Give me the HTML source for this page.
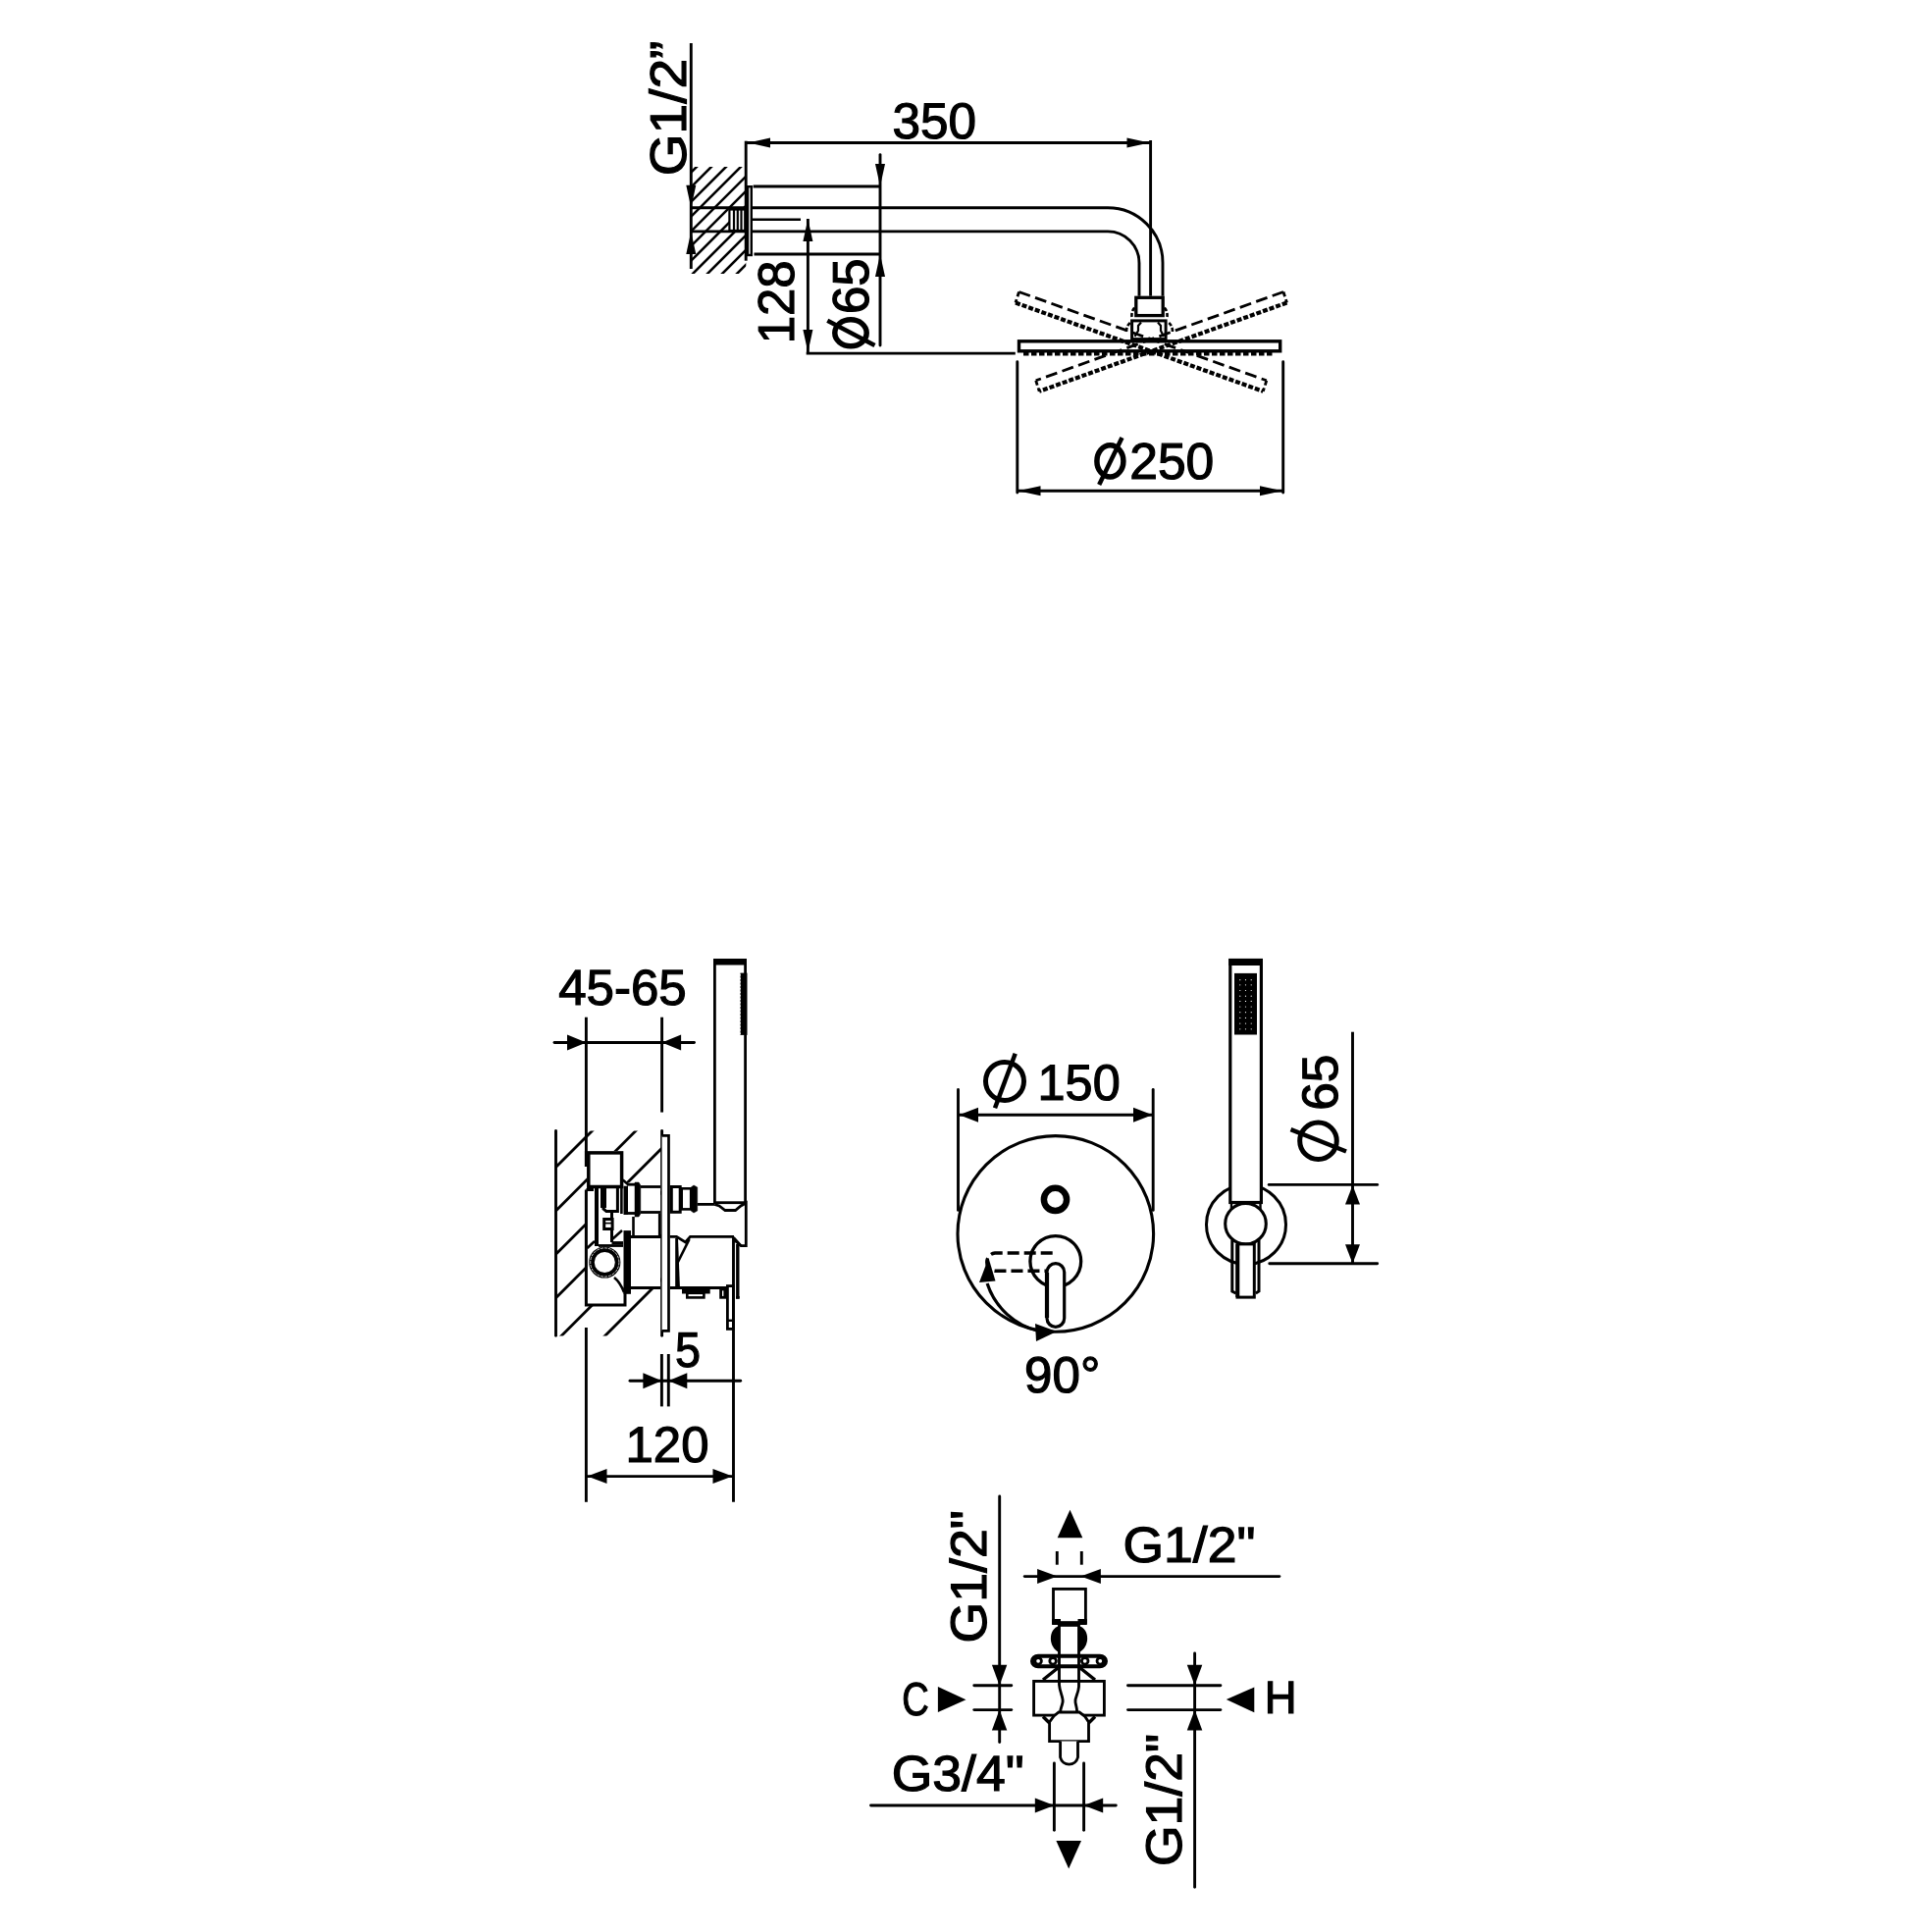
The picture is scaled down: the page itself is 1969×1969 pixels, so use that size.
<!DOCTYPE html>
<html><head><meta charset="utf-8"><style>
html,body{margin:0;padding:0;background:#fff;overflow:hidden;width:1969px;height:1969px;}
svg{display:block;will-change:transform;}
text{font-family:"Liberation Sans",sans-serif;fill:#000;stroke:#000;stroke-width:1.2px;font-kerning:none;text-rendering:geometricPrecision;}
</style></head><body>
<svg width="1969" height="1969" viewBox="0 0 1969 1969" stroke="#000" fill="none">
<clipPath id="cw1"><rect x="704.3" y="170" width="56" height="109"/></clipPath>
<g clip-path="url(#cw1)"><line x1="580" y1="300" x2="780" y2="100" stroke-width="2.6"/><line x1="595" y1="300" x2="795" y2="100" stroke-width="2.6"/><line x1="610" y1="300" x2="810" y2="100" stroke-width="2.6"/><line x1="625" y1="300" x2="825" y2="100" stroke-width="2.6"/><line x1="640" y1="300" x2="840" y2="100" stroke-width="2.6"/><line x1="655" y1="300" x2="855" y2="100" stroke-width="2.6"/><line x1="670" y1="300" x2="870" y2="100" stroke-width="2.6"/><line x1="685" y1="300" x2="885" y2="100" stroke-width="2.6"/><line x1="700" y1="300" x2="900" y2="100" stroke-width="2.6"/><line x1="715" y1="300" x2="915" y2="100" stroke-width="2.6"/><line x1="730" y1="300" x2="930" y2="100" stroke-width="2.6"/><line x1="745" y1="300" x2="945" y2="100" stroke-width="2.6"/></g>
<rect x="743.4" y="213.5" width="15.9" height="21.5" stroke-width="2.2" fill="#fff" />
<line x1="748.0" y1="213.5" x2="748.0" y2="235.0" stroke-width="2.2" stroke-linecap="butt" />
<line x1="751.8" y1="213.5" x2="751.8" y2="235.0" stroke-width="2.2" stroke-linecap="butt" />
<line x1="755.5" y1="213.5" x2="755.5" y2="235.0" stroke-width="2.2" stroke-linecap="butt" />
<line x1="704.3" y1="44.0" x2="704.3" y2="274.0" stroke-width="2.9" stroke-linecap="butt" />
<polygon points="704.3,211.7 699.3,188.7 709.3,188.7" fill="#000" stroke="none"/>
<polygon points="704.3,236.0 709.3,259.0 699.3,259.0" fill="#000" stroke="none"/>
<line x1="760.2" y1="143.7" x2="760.2" y2="265.7" stroke-width="2.9" stroke-linecap="butt" />
<line x1="760.2" y1="145.5" x2="1172.6" y2="145.5" stroke-width="2.9" stroke-linecap="butt" />
<polygon points="762.0,145.5 785.0,140.5 785.0,150.5" fill="#000" stroke="none"/>
<polygon points="1171.5,145.5 1148.5,150.5 1148.5,140.5" fill="#000" stroke="none"/>
<line x1="1172.6" y1="143.0" x2="1172.6" y2="301.7" stroke-width="2.9" stroke-linecap="butt" />
<path d="M704.3,211.7 L1129,211.7 A56,56 0 0 1 1185,267.7 L1185,301.7" stroke-width="2.9" fill="none" />
<path d="M704.3,235.9 L1129,235.9 A32,32 0 0 1 1161,267.9 L1161,301.7" stroke-width="2.9" fill="none" />
<rect x="762.0" y="190.2" width="3.8" height="69.8" stroke-width="2.4" fill="#fff" />
<line x1="767.6" y1="190.0" x2="897.0" y2="190.0" stroke-width="2.9" stroke-linecap="butt" />
<line x1="768.5" y1="259.0" x2="897.0" y2="259.0" stroke-width="2.9" stroke-linecap="butt" />
<line x1="897.0" y1="157.6" x2="897.0" y2="352.0" stroke-width="2.9" stroke-linecap="round" />
<polygon points="897.0,190.0 892.0,167.0 902.0,167.0" fill="#000" stroke="none"/>
<polygon points="897.0,259.0 902.0,282.0 892.0,282.0" fill="#000" stroke="none"/>
<line x1="766.7" y1="223.8" x2="816.0" y2="223.8" stroke-width="2.4" stroke-linecap="butt" />
<line x1="823.4" y1="223.0" x2="823.4" y2="359.0" stroke-width="2.9" stroke-linecap="butt" />
<polygon points="823.4,223.0 828.4,246.0 818.4,246.0" fill="#000" stroke="none"/>
<polygon points="823.4,359.0 818.4,336.0 828.4,336.0" fill="#000" stroke="none"/>
<line x1="821.7" y1="360.1" x2="1034.8" y2="360.1" stroke-width="2.9" stroke-linecap="butt" />
<rect x="1157.8" y="303.3" width="27.4" height="18.3" stroke-width="3.3" fill="#fff" />
<rect x="1153.6" y="326.9" width="34.5" height="18.7" stroke-width="3" fill="#fff" />
<path d="M1156.5,343 L1160,337 L1160,332 L1163,328.5 M1186,343 L1183,337 L1183,332 L1180,328.5" stroke-width="2.2" fill="none" />
<rect x="1038.5" y="347.8" width="266.2" height="10.0" stroke-width="3.4" fill="#fff" />
<line x1="1043.0" y1="360.6" x2="1298.0" y2="360.6" stroke-width="3.6" stroke-linecap="butt" stroke-dasharray="5.5 2.5"/>
<path d="M1153.5,323 C1153,318 1155,314 1158,312 M1189.5,323 C1190,318 1188,314 1185,312" stroke-width="2.6" fill="none" stroke-dasharray="4 2"/>
<path d="M1148,338 C1148,333 1150,330 1153,328 M1195,338 C1195,333 1193,330 1190,328" stroke-width="2.6" fill="none" stroke-dasharray="4 2"/>
<line x1="1038.5" y1="297.5" x2="1290.8" y2="387.8" stroke-width="2.8" stroke-linecap="butt" stroke-dasharray="12 5.5"/>
<line x1="1035.0" y1="308.5" x2="1287.3" y2="398.8" stroke-width="4.2" stroke-linecap="butt" stroke-dasharray="5 2"/>
<line x1="1038.5" y1="297.5" x2="1035.0" y2="308.5" stroke-width="2.8" stroke-linecap="butt" stroke-dasharray="5 3"/>
<line x1="1290.8" y1="387.8" x2="1287.3" y2="398.8" stroke-width="2.8" stroke-linecap="butt" stroke-dasharray="5 3"/>
<line x1="1308.0" y1="297.5" x2="1055.7" y2="387.8" stroke-width="2.8" stroke-linecap="butt" stroke-dasharray="12 5.5"/>
<line x1="1311.5" y1="308.5" x2="1059.2" y2="398.8" stroke-width="4.2" stroke-linecap="butt" stroke-dasharray="5 2"/>
<line x1="1308.0" y1="297.5" x2="1311.5" y2="308.5" stroke-width="2.8" stroke-linecap="butt" stroke-dasharray="5 3"/>
<line x1="1055.7" y1="387.8" x2="1059.2" y2="398.8" stroke-width="2.8" stroke-linecap="butt" stroke-dasharray="5 3"/>
<line x1="1036.8" y1="368.8" x2="1036.8" y2="502.0" stroke-width="2.9" stroke-linecap="round" />
<line x1="1307.7" y1="368.8" x2="1307.7" y2="502.0" stroke-width="2.9" stroke-linecap="round" />
<line x1="1036.8" y1="500.2" x2="1307.7" y2="500.2" stroke-width="2.9" stroke-linecap="butt" />
<polygon points="1037.5,500.2 1060.5,495.2 1060.5,505.2" fill="#000" stroke="none"/>
<polygon points="1307.0,500.2 1284.0,505.2 1284.0,495.2" fill="#000" stroke="none"/>
<text x="0" y="0" font-size="51.55" transform="translate(909.55 140.70) scale(0.9947 1)">350</text>
<text x="0" y="0" font-size="51.98" transform="translate(698.89 179.17) rotate(-90) scale(1.0584 1)">G1/2”</text>
<text x="0" y="0" font-size="51.98" transform="translate(808.89 350.28) rotate(-90) scale(0.9788 1)">128</text>
<text x="0" y="0" font-size="51.98" transform="translate(884.89 319.99) rotate(-90) scale(0.9813 1)">65</text>
<ellipse cx="867.0" cy="339.3" rx="16.2" ry="13.5" stroke-width="5.5" fill="none"/>
<line x1="843.3" y1="326.7" x2="891.5" y2="352.1" stroke-width="4.5" stroke-linecap="butt" />
<text x="0" y="0" font-size="52.12" transform="translate(1151.20 487.89) scale(0.9903 1)">250</text>
<ellipse cx="1131.4" cy="469.9" rx="13.5" ry="16.2" stroke-width="5.5" fill="none"/>
<line x1="1143.5" y1="445.9" x2="1120.2" y2="494.0" stroke-width="4.5" stroke-linecap="butt" />
<text x="0" y="0" font-size="50.99" transform="translate(569.13 1024.00) scale(1.0016 1)">45-65</text>
<line x1="565.0" y1="1062.5" x2="707.5" y2="1062.5" stroke-width="2.9" stroke-linecap="round" />
<polygon points="597.5,1062.5 578.0,1070.5 578.0,1054.5" fill="#000" stroke="none"/>
<polygon points="674.6,1062.5 694.1,1054.5 694.1,1070.5" fill="#000" stroke="none"/>
<line x1="597.4" y1="1036.7" x2="597.4" y2="1189.0" stroke-width="2.9" stroke-linecap="butt" />
<line x1="674.6" y1="1036.7" x2="674.6" y2="1133.6" stroke-width="2.9" stroke-linecap="butt" />
<clipPath id="cw2"><rect x="566.5" y="1152.4" width="108" height="209"/></clipPath>
<g clip-path="url(#cw2)"><line x1="356.0" y1="1400" x2="656.0" y2="1100" stroke-width="2.8"/><line x1="400.4" y1="1400" x2="700.4" y2="1100" stroke-width="2.8"/><line x1="444.8" y1="1400" x2="744.8" y2="1100" stroke-width="2.8"/><line x1="489.2" y1="1400" x2="789.2" y2="1100" stroke-width="2.8"/><line x1="533.6" y1="1400" x2="833.6" y2="1100" stroke-width="2.8"/><line x1="578.0" y1="1400" x2="878.0" y2="1100" stroke-width="2.8"/></g>
<line x1="566.5" y1="1152.4" x2="566.5" y2="1361.3" stroke-width="2.9" stroke-linecap="round" />
<line x1="674.6" y1="1152.4" x2="674.6" y2="1361.3" stroke-width="2.9" stroke-linecap="round" />
<path d="M674.6,1157.4 L681.5,1157.4 L681.5,1356.3 L674.6,1356.3" stroke-width="2.7" fill="#fff" />
<rect x="728.4" y="978.5" width="31.2" height="247.2" stroke-width="2.8" fill="#fff" />
<line x1="727.0" y1="980.3" x2="761.0" y2="980.3" stroke-width="6.5" stroke-linecap="butt" />
<rect x="754.5" y="991.6" width="7.0" height="63.3" stroke-width="0" fill="#000" />
<line x1="754.0" y1="993.0" x2="754.0" y2="1054.0" stroke-width="1.5" stroke-linecap="butt" stroke-dasharray="1.5 2" stroke="#fff"/>
<path d="M728.3,1227.5 L733,1229 L739,1233.5 L749.5,1233.5 L755,1229 L760.3,1226 L760.3,1269.7 L755.2,1269.7 L748,1263.5" stroke-width="2.8" fill="#fff" />
<rect x="597.4" y="1211.0" width="39.6" height="119.0" stroke-width="0" fill="#fff" />
<rect x="631.0" y="1205.5" width="42.0" height="54.5" stroke-width="0" fill="#fff" />
<rect x="637.0" y="1254.0" width="36.0" height="60.0" stroke-width="0" fill="#fff" />
<rect x="598.0" y="1173.0" width="37.0" height="39.0" stroke-width="0" fill="#fff" />
<rect x="599.8" y="1174.9" width="33.8" height="34.6" stroke-width="3.5" fill="#fff" />
<line x1="597.4" y1="1173.0" x2="597.4" y2="1189.0" stroke-width="3.0" stroke-linecap="butt" />
<path d="M597.4,1212.5 L597.4,1330 L637,1330 L637,1312" stroke-width="3" fill="#fff" />
<path d="M597.4,1212.5 L605,1212.5" stroke-width="3" fill="none" />
<rect x="606.0" y="1211.0" width="4.0" height="59.0" stroke-width="0" fill="#000" />
<path d="M615,1211 L615,1232 L618,1234.6 L629.4,1234.6 L629.4,1211" stroke-width="3" fill="none" />
<rect x="612.0" y="1211.0" width="6.0" height="20.0" stroke-width="0" fill="#000" />
<line x1="623.5" y1="1236.0" x2="623.5" y2="1266.0" stroke-width="3" stroke-linecap="butt" />
<rect x="615.7" y="1242.5" width="8.4" height="10.0" stroke-width="3" fill="#fff" />
<line x1="617.0" y1="1246.6" x2="624.0" y2="1246.6" stroke-width="1.6" stroke-linecap="butt" />
<line x1="623.5" y1="1266.6" x2="635.0" y2="1266.6" stroke-width="3" stroke-linecap="butt" />
<line x1="624.0" y1="1263.0" x2="634.0" y2="1254.0" stroke-width="2.5" stroke-linecap="butt" />
<line x1="610.0" y1="1269.5" x2="635.0" y2="1269.5" stroke-width="2.8" stroke-linecap="butt" />
<line x1="633.4" y1="1208.7" x2="633.4" y2="1237.0" stroke-width="2.6" stroke-linecap="butt" />
<rect x="635.5" y="1208.7" width="4.5" height="29.3" stroke-width="0" fill="#000" />
<line x1="639.0" y1="1207.2" x2="647.5" y2="1207.2" stroke-width="2.8" stroke-linecap="butt" />
<line x1="639.0" y1="1236.5" x2="647.5" y2="1236.5" stroke-width="2.8" stroke-linecap="butt" />
<path d="M647,1205 L651,1205 L652.8,1208 L652.8,1237 L651,1240 L647,1240 Z" stroke-width="0.5" fill="#000" />
<line x1="652.8" y1="1209.5" x2="673.0" y2="1209.5" stroke-width="2.8" stroke-linecap="butt" />
<line x1="652.8" y1="1235.5" x2="673.0" y2="1235.5" stroke-width="2.8" stroke-linecap="butt" />
<line x1="672.0" y1="1237.0" x2="672.0" y2="1260.0" stroke-width="2.2" stroke-linecap="butt" />
<line x1="645.5" y1="1240.0" x2="645.5" y2="1259.0" stroke-width="2.6" stroke-linecap="butt" />
<line x1="634.7" y1="1202.5" x2="640.5" y2="1207.5" stroke-width="2.6" stroke-linecap="butt" />
<circle cx="616.3" cy="1286.5" r="13.3" stroke-width="5.6" fill="#fff" />
<circle cx="616.3" cy="1286.5" r="14.6" stroke-width="0.8" fill="none" stroke="#fff" stroke-dasharray="3 1"/>
<path d="M598.5,1272 L606,1265" stroke-width="2.6" fill="none" />
<path d="M626,1302 C631,1306 634,1312 636,1317" stroke-width="2.6" fill="none" />
<rect x="635.5" y="1254.1" width="7.5" height="64.7" stroke-width="0" fill="#000" />
<path d="M643,1260.5 L673,1260.5 M643,1312.5 L673,1312.5" stroke-width="2.8" fill="none" />
<rect x="684.3" y="1209.5" width="8.9" height="25.8" stroke-width="3" fill="#fff" />
<rect x="694.7" y="1211.3" width="9.5" height="21.1" stroke-width="2.6" fill="#fff" />
<path d="M704.2,1210 L707,1208 L710.7,1210 L710.7,1234 L707,1236 L704.2,1234 Z" stroke-width="0.5" fill="#000" />
<line x1="710.7" y1="1227.4" x2="728.3" y2="1227.4" stroke-width="2.8" stroke-linecap="butt" />
<path d="M682.8,1260.4 L689.5,1260.4 L698.5,1266 L703.5,1260.4 L748,1260.4" stroke-width="2.8" fill="none" />
<polygon points="688.2,1262.0 691.0,1262.0 692.9,1311.0 688.2,1311.0" fill="#000" stroke="none"/>
<line x1="702.5" y1="1263.0" x2="690.5" y2="1287.0" stroke-width="2.6" stroke-linecap="butt" />
<line x1="747.5" y1="1260.4" x2="747.5" y2="1530.8" stroke-width="2.9" stroke-linecap="butt" />
<line x1="682.8" y1="1312.5" x2="740.2" y2="1312.5" stroke-width="2.8" stroke-linecap="butt" />
<path d="M748,1261.7 L755.2,1269.7" stroke-width="2.6" fill="none" />
<line x1="751.8" y1="1268.0" x2="751.8" y2="1323.7" stroke-width="3.4" stroke-linecap="butt" />
<line x1="750.0" y1="1322.3" x2="753.7" y2="1322.3" stroke-width="2.6" stroke-linecap="butt" />
<rect x="696.2" y="1315.2" width="26.3" height="2.1" stroke-width="2.4" fill="#fff" />
<rect x="700.3" y="1317.8" width="17.1" height="4.6" stroke-width="2.6" fill="#fff" />
<rect x="734.6" y="1314.0" width="4.2" height="8.3" stroke-width="2.8" fill="#fff" />
<rect x="741.4" y="1310.6" width="6.0" height="43.8" stroke-width="2.8" fill="#fff" />
<line x1="741.0" y1="1345.8" x2="748.0" y2="1345.8" stroke-width="2.4" stroke-linecap="butt" />
<line x1="597.4" y1="1353.0" x2="597.4" y2="1530.8" stroke-width="2.9" stroke-linecap="butt" />
<line x1="674.4" y1="1380.0" x2="674.4" y2="1433.4" stroke-width="2.9" stroke-linecap="butt" />
<line x1="681.3" y1="1380.0" x2="681.3" y2="1433.4" stroke-width="2.9" stroke-linecap="butt" />
<line x1="642.0" y1="1407.3" x2="754.7" y2="1407.3" stroke-width="2.9" stroke-linecap="round" />
<polygon points="674.4,1407.3 655.4,1415.3 655.4,1399.3" fill="#000" stroke="none"/>
<polygon points="681.3,1407.3 700.3,1399.3 700.3,1415.3" fill="#000" stroke="none"/>
<text x="0" y="0" font-size="50.45" transform="translate(687.93 1392.51) scale(0.9282 1)">5</text>
<line x1="597.4" y1="1504.6" x2="747.5" y2="1504.6" stroke-width="2.9" stroke-linecap="butt" />
<polygon points="598.5,1504.6 618.5,1497.1 618.5,1512.1" fill="#000" stroke="none"/>
<polygon points="746.5,1504.6 726.5,1512.1 726.5,1497.1" fill="#000" stroke="none"/>
<text x="0" y="0" font-size="51.41" transform="translate(637.57 1489.90) scale(0.9899 1)">120</text>
<line x1="976.5" y1="1110.5" x2="976.5" y2="1233.4" stroke-width="2.9" stroke-linecap="round" />
<line x1="1175.2" y1="1110.5" x2="1175.2" y2="1233.4" stroke-width="2.9" stroke-linecap="round" />
<line x1="976.5" y1="1136.2" x2="1175.2" y2="1136.2" stroke-width="2.9" stroke-linecap="butt" />
<polygon points="977.5,1136.2 997.0,1128.7 997.0,1143.7" fill="#000" stroke="none"/>
<polygon points="1174.5,1136.2 1155.0,1143.7 1155.0,1128.7" fill="#000" stroke="none"/>
<text x="0" y="0" font-size="51.55" transform="translate(1057.56 1120.60) scale(0.9779 1)">150</text>
<ellipse cx="1024.0" cy="1101.9" rx="19.5" ry="19.5" stroke-width="5" fill="none"/>
<line x1="1014.0" y1="1129.2" x2="1034.7" y2="1073.7" stroke-width="4.5" stroke-linecap="butt" />
<circle cx="1075.8" cy="1257.4" r="99.8" stroke-width="3.1" fill="none" />
<circle cx="1075.5" cy="1222.4" r="11.6" stroke-width="6.5" fill="none" />
<circle cx="1075.8" cy="1285.5" r="25.9" stroke-width="3.3" fill="none" />
<path d="M1072.7,1277 L1014,1277 A9.2,9.2 0 0 0 1014,1295.3 L1072.7,1295.3" stroke-width="3.4" fill="none" stroke-dasharray="12 5"/>
<path d="M1067,1296.5 A8.85,8.85 0 0 1 1084.7,1296.5 L1084.7,1343.5 A8.85,8.85 0 0 1 1067,1343.5 Z" stroke-width="3.2" fill="#fff" />
<line x1="1067.0" y1="1297.0" x2="1067.0" y2="1343.0" stroke-width="4.2" stroke-linecap="butt" />
<path d="M1006.1,1308.1 A73,73 0 0 0 1059.1,1356.6" stroke-width="3.2" fill="none" />
<polygon points="1007.5,1282.0 998.0,1307.0 1014.5,1305.5" fill="#000" stroke="none"/>
<polygon points="1077.0,1357.0 1055.0,1349.0 1056.0,1367.0" fill="#000" stroke="none"/>
<text x="0" y="0" font-size="51.69" transform="translate(1044.11 1418.50) scale(0.9884 1)">90°</text>
<circle cx="1270.0" cy="1248.0" r="40.5" stroke-width="3" fill="none" />
<rect x="1253.8" y="978.5" width="31.6" height="247.0" stroke-width="3.2" fill="#fff" />
<line x1="1252.2" y1="980.6" x2="1287.0" y2="980.6" stroke-width="7" stroke-linecap="butt" />
<rect x="1258.0" y="991.9" width="23.0" height="62.6" stroke-width="0" fill="#000" />
<circle cx="1263.8" cy="998.7" r="0.6" stroke-width="0" fill="#fff" />
<circle cx="1269.5" cy="998.7" r="0.6" stroke-width="0" fill="#fff" />
<circle cx="1275.2" cy="998.7" r="0.6" stroke-width="0" fill="#fff" />
<circle cx="1263.8" cy="1003.8" r="0.6" stroke-width="0" fill="#fff" />
<circle cx="1269.5" cy="1003.8" r="0.6" stroke-width="0" fill="#fff" />
<circle cx="1275.2" cy="1003.8" r="0.6" stroke-width="0" fill="#fff" />
<circle cx="1263.8" cy="1009.5" r="0.6" stroke-width="0" fill="#fff" />
<circle cx="1269.5" cy="1009.5" r="0.6" stroke-width="0" fill="#fff" />
<circle cx="1275.2" cy="1009.5" r="0.6" stroke-width="0" fill="#fff" />
<circle cx="1263.8" cy="1015.2" r="0.6" stroke-width="0" fill="#fff" />
<circle cx="1269.5" cy="1015.2" r="0.6" stroke-width="0" fill="#fff" />
<circle cx="1275.2" cy="1015.2" r="0.6" stroke-width="0" fill="#fff" />
<circle cx="1263.8" cy="1020.4" r="0.6" stroke-width="0" fill="#fff" />
<circle cx="1269.5" cy="1020.4" r="0.6" stroke-width="0" fill="#fff" />
<circle cx="1275.2" cy="1020.4" r="0.6" stroke-width="0" fill="#fff" />
<circle cx="1263.8" cy="1026.0" r="0.6" stroke-width="0" fill="#fff" />
<circle cx="1269.5" cy="1026.0" r="0.6" stroke-width="0" fill="#fff" />
<circle cx="1275.2" cy="1026.0" r="0.6" stroke-width="0" fill="#fff" />
<circle cx="1263.8" cy="1031.7" r="0.6" stroke-width="0" fill="#fff" />
<circle cx="1269.5" cy="1031.7" r="0.6" stroke-width="0" fill="#fff" />
<circle cx="1275.2" cy="1031.7" r="0.6" stroke-width="0" fill="#fff" />
<circle cx="1263.8" cy="1037.4" r="0.6" stroke-width="0" fill="#fff" />
<circle cx="1269.5" cy="1037.4" r="0.6" stroke-width="0" fill="#fff" />
<circle cx="1275.2" cy="1037.4" r="0.6" stroke-width="0" fill="#fff" />
<circle cx="1263.8" cy="1043.1" r="0.6" stroke-width="0" fill="#fff" />
<circle cx="1269.5" cy="1043.1" r="0.6" stroke-width="0" fill="#fff" />
<circle cx="1275.2" cy="1043.1" r="0.6" stroke-width="0" fill="#fff" />
<circle cx="1263.8" cy="1048.8" r="0.6" stroke-width="0" fill="#fff" />
<circle cx="1269.5" cy="1048.8" r="0.6" stroke-width="0" fill="#fff" />
<circle cx="1275.2" cy="1048.8" r="0.6" stroke-width="0" fill="#fff" />
<path d="M1255,1226.5 L1255,1233 M1284.5,1226.5 L1284.5,1233" stroke-width="2.4" fill="none" />
<circle cx="1269.5" cy="1247.2" r="20.8" stroke-width="3.1" fill="#fff" />
<path d="M1255.8,1263.8 L1255.8,1316 L1259.5,1318 M1283,1263.8 L1283,1316 L1279.8,1318" stroke-width="3" fill="none" />
<rect x="1261.0" y="1267.9" width="17.3" height="54.2" stroke-width="3" fill="#fff" />
<line x1="1261.3" y1="1268.0" x2="1261.3" y2="1322.0" stroke-width="4" stroke-linecap="butt" />
<line x1="1293.2" y1="1207.4" x2="1403.7" y2="1207.4" stroke-width="2.9" stroke-linecap="round" />
<line x1="1293.8" y1="1287.8" x2="1403.7" y2="1287.8" stroke-width="2.9" stroke-linecap="round" />
<line x1="1378.5" y1="1051.7" x2="1378.5" y2="1287.8" stroke-width="2.9" stroke-linecap="butt" />
<polygon points="1378.5,1208.0 1386.0,1227.5 1371.0,1227.5" fill="#000" stroke="none"/>
<polygon points="1378.5,1287.8 1371.0,1268.3 1386.0,1268.3" fill="#000" stroke="none"/>
<text x="0" y="0" font-size="51.27" transform="translate(1363.40 1131.70) rotate(-90) scale(1.0005 1)">65</text>
<ellipse cx="1343.5" cy="1162.7" rx="18.8" ry="18.8" stroke-width="5" fill="none"/>
<line x1="1315.5" y1="1151.2" x2="1372.0" y2="1173.5" stroke-width="4.5" stroke-linecap="butt" />
<line x1="1018.7" y1="1525.0" x2="1018.7" y2="1775.5" stroke-width="2.9" stroke-linecap="round" />
<polygon points="1018.6,1717.7 1010.9,1696.7 1026.3,1696.7" fill="#000" stroke="none"/>
<polygon points="1018.6,1742.6 1026.3,1763.6 1010.9,1763.6" fill="#000" stroke="none"/>
<line x1="992.8" y1="1717.8" x2="1030.8" y2="1717.8" stroke-width="2.9" stroke-linecap="round" />
<line x1="992.8" y1="1742.6" x2="1030.8" y2="1742.6" stroke-width="2.9" stroke-linecap="round" />
<polygon points="984.5,1732.3 955.9,1719.0 955.9,1745.1" fill="#000" stroke="none"/>
<text x="0" y="0" font-size="47.46" transform="translate(919.37 1747.84) scale(0.8019 1)">C</text>
<polygon points="1090.5,1538.7 1077.7,1567.2 1103.3,1567.2" fill="#000" stroke="none"/>
<line x1="1077.3" y1="1581.0" x2="1077.3" y2="1594.7" stroke-width="2.9" stroke-linecap="butt" />
<line x1="1102.3" y1="1581.0" x2="1102.3" y2="1594.7" stroke-width="2.9" stroke-linecap="butt" />
<line x1="1044.2" y1="1606.6" x2="1303.9" y2="1606.6" stroke-width="2.9" stroke-linecap="round" />
<polygon points="1077.7,1606.6 1057.1,1614.1 1057.1,1599.1" fill="#000" stroke="none"/>
<polygon points="1101.3,1606.6 1121.9,1599.1 1121.9,1614.1" fill="#000" stroke="none"/>
<text x="0" y="0" font-size="50.99" transform="translate(1144.51 1591.90) scale(1.0491 1)">G1/2&quot;</text>
<rect x="1073.5" y="1619.4" width="32.9" height="34.2" stroke-width="2.85" fill="#fff" />
<rect x="1072.1" y="1650.0" width="8.9" height="6.0" stroke-width="0" fill="#000" />
<rect x="1098.5" y="1650.0" width="9.3" height="6.0" stroke-width="0" fill="#000" />
<line x1="1080.0" y1="1656.4" x2="1099.0" y2="1656.4" stroke-width="2.85" stroke-linecap="butt" />
<path d="M1079.5,1657 C1068,1660 1068,1679 1079.5,1684 Z" stroke-width="0" fill="#000" />
<path d="M1099.5,1657 C1111,1660 1111,1679 1099.5,1684 Z" stroke-width="0" fill="#000" />
<rect x="1052.0" y="1687.8" width="75.0" height="10.5" stroke-width="4" fill="#fff" rx="6"/>
<circle cx="1058.1" cy="1692.8" r="3.3" stroke-width="2.8" fill="none" />
<circle cx="1073.1" cy="1692.8" r="3.3" stroke-width="2.8" fill="none" />
<circle cx="1105.7" cy="1692.8" r="3.3" stroke-width="2.8" fill="none" />
<circle cx="1121.3" cy="1692.8" r="3.3" stroke-width="2.8" fill="none" />
<rect x="1053.6" y="1713.4" width="71.8" height="34.7" stroke-width="2.85" fill="#fff" />
<path d="M1063,1712 L1078,1700 M1116,1712 L1101,1700" stroke-width="3.5" fill="none" />
<path d="M1069.6,1774.6 L1069.6,1755 L1074,1749 L1079,1745 L1100,1745 L1105.5,1749 L1109.5,1755 L1109.5,1774.6 Z" stroke-width="2.85" fill="#fff" />
<path d="M1063,1749.5 L1069.6,1756 M1116,1749.5 L1109.5,1756" stroke-width="3.5" fill="none" />
<path d="M1079.5,1656 L1079.5,1717 C1080,1725 1084,1730 1083,1735 C1082,1740 1080,1743 1081,1745" stroke-width="2.85" fill="none" />
<path d="M1099.5,1656 L1099.5,1719 C1099,1727 1095,1730 1096,1735 C1097,1740 1098,1743 1097.5,1745" stroke-width="2.85" fill="none" />
<path d="M1080.6,1774.6 L1080.6,1791 A9.2,9.2 0 0 0 1098.5,1791 L1098.5,1774.6" stroke-width="2.85" fill="#fff" />
<line x1="1074.4" y1="1797.0" x2="1074.4" y2="1865.2" stroke-width="2.9" stroke-linecap="round" />
<line x1="1104.6" y1="1797.0" x2="1104.6" y2="1865.2" stroke-width="2.9" stroke-linecap="round" />
<line x1="887.5" y1="1840.0" x2="1137.3" y2="1840.0" stroke-width="2.9" stroke-linecap="round" />
<polygon points="1074.4,1840.0 1054.8,1847.5 1054.8,1832.5" fill="#000" stroke="none"/>
<polygon points="1104.6,1840.0 1124.2,1832.5 1124.2,1847.5" fill="#000" stroke="none"/>
<text x="0" y="0" font-size="50.99" transform="translate(908.71 1825.20) scale(1.0491 1)">G3/4&quot;</text>
<polygon points="1089.2,1904.6 1076.4,1876.0 1102.0,1876.0" fill="#000" stroke="none"/>
<line x1="1149.5" y1="1717.8" x2="1243.9" y2="1717.8" stroke-width="2.9" stroke-linecap="round" />
<line x1="1149.5" y1="1742.6" x2="1243.9" y2="1742.6" stroke-width="2.9" stroke-linecap="round" />
<line x1="1217.6" y1="1685.0" x2="1217.6" y2="1923.3" stroke-width="2.9" stroke-linecap="round" />
<polygon points="1217.6,1717.7 1209.8,1696.7 1225.3,1696.7" fill="#000" stroke="none"/>
<polygon points="1217.6,1742.6 1225.3,1763.6 1209.8,1763.6" fill="#000" stroke="none"/>
<polygon points="1249.8,1732.0 1278.3,1719.6 1278.3,1745.2" fill="#000" stroke="none"/>
<text x="0" y="0" font-size="46.80" transform="translate(1288.87 1745.60) scale(0.9715 1)">H</text>
<text x="0" y="0" font-size="51.55" transform="translate(1005.20 1674.50) rotate(-90) scale(1.0408 1)">G1/2&quot;</text>
<text x="0" y="0" font-size="51.55" transform="translate(1203.60 1902.09) rotate(-90) scale(1.0384 1)">G1/2&quot;</text>
</svg>
</body></html>
